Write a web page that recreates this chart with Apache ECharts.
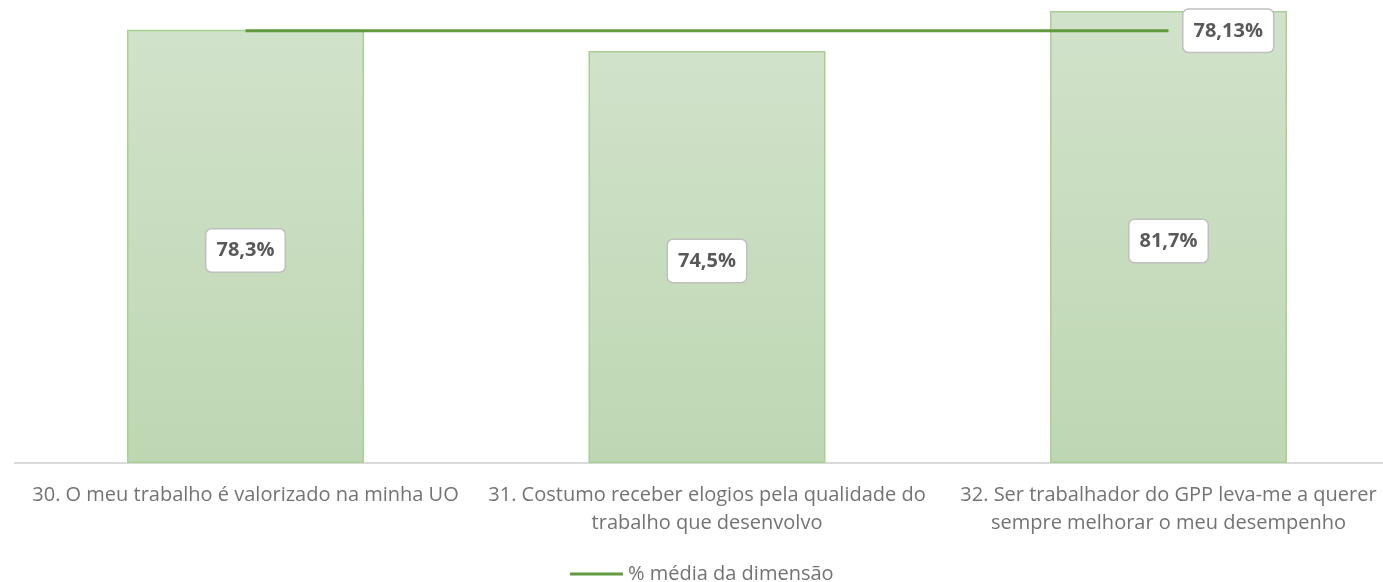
<!DOCTYPE html>
<html>
<head>
<meta charset="utf-8">
<script src="https://cdn.jsdelivr.net/npm/echarts@6/dist/echarts.min.js"></script>
<style>
  html, body { margin: 0; padding: 0; background: #fff; overflow: hidden; }
  #chart { width: 1400px; height: 582px; }
</style>
</head>
<body>
<div id="chart"></div>
<script>
// Questions of the dimension (line breaks as shown under the axis)
const categories = [
  '30. O meu trabalho é valorizado na minha UO',
  '31. Costumo receber elogios pela qualidade do\ntrabalho que desenvolvo',
  '32. Ser trabalhador do GPP leva-me a querer\nsempre melhorar o meu desempenho'
];
// Share of favourable answers per question (%)
const questionValues = [78.3, 74.5, 81.7];
// Average of the dimension (%)
const dimensionAverage = [78.13, 78.13, 78.13];
const averageName = '% média da dimensão';

const fmt = (v, d) => v.toFixed(d).replace('.', ',') + '%';

const labelBox = {
  backgroundColor: '#ffffff',
  borderColor: '#bfbfbf',
  borderWidth: 1.5,
  borderRadius: 5,
  padding: [8, 10, 7, 10],
  color: '#595959',
  fontFamily: 'Open Sans',
  fontWeight: 'bold',
  fontSize: 20,
  lineHeight: 27
};

// The plot area runs slightly past the right edge of the page, so the
// drawing surface is a little wider than the visible window.
const chart = echarts.init(document.getElementById('chart'), null, { renderer: 'canvas' });
chart.setOption({
  animation: false,
  backgroundColor: '#ffffff',
  grid: { left: 14.75, width: 1384.5, top: 0, bottom: 119, containLabel: false },
  legend: {
    data: [{ name: averageName, icon: 'rect' }],
    left: 570,
    top: 564,
    padding: 0,
    itemWidth: 53,
    itemHeight: 3,
    itemGap: 4,
    textStyle: { color: '#737373', fontFamily: 'Open Sans', fontSize: 20, lineHeight: 20, padding: [0, 0, 0, 0] }
  },
  xAxis: {
    type: 'category',
    data: categories,
    axisLine: { show: true, lineStyle: { color: '#d9d9d9', width: 2 } },
    axisTick: { show: false },
    axisLabel: {
      interval: 0,
      margin: 18,
      color: '#737373',
      fontFamily: 'Open Sans',
      fontSize: 20,
      lineHeight: 28,
      align: 'center'
    }
  },
  yAxis: {
    type: 'value',
    min: 0,
    max: 83.7,
    show: false,
    splitLine: { show: false }
  },
  series: [
    {
      name: 'Questões',
      type: 'bar',
      data: questionValues,
      barWidth: 237,
      itemStyle: {
        color: new echarts.graphic.LinearGradient(0, 0, 0, 1, [
          { offset: 0, color: '#d1e2ca' },
          { offset: 1, color: '#bed7b2' }
        ]),
        borderColor: '#a9cf94',
        borderWidth: 1.5
      },
      label: Object.assign({
        show: true,
        position: 'inside',
        offset: [0, 4],
        formatter: p => fmt(p.value, 1)
      }, labelBox)
    },
    {
      name: averageName,
      type: 'line',
      data: dimensionAverage,
      symbol: 'none',
      z: 5,
      lineStyle: { color: '#629b3f', width: 3 },
      itemStyle: { color: '#629b3f' },
      endLabel: Object.assign({
        show: true,
        distance: 15,
        formatter: p => fmt(p.value, 2)
      }, labelBox)
    }
  ]
});
</script>
</body>
</html>
